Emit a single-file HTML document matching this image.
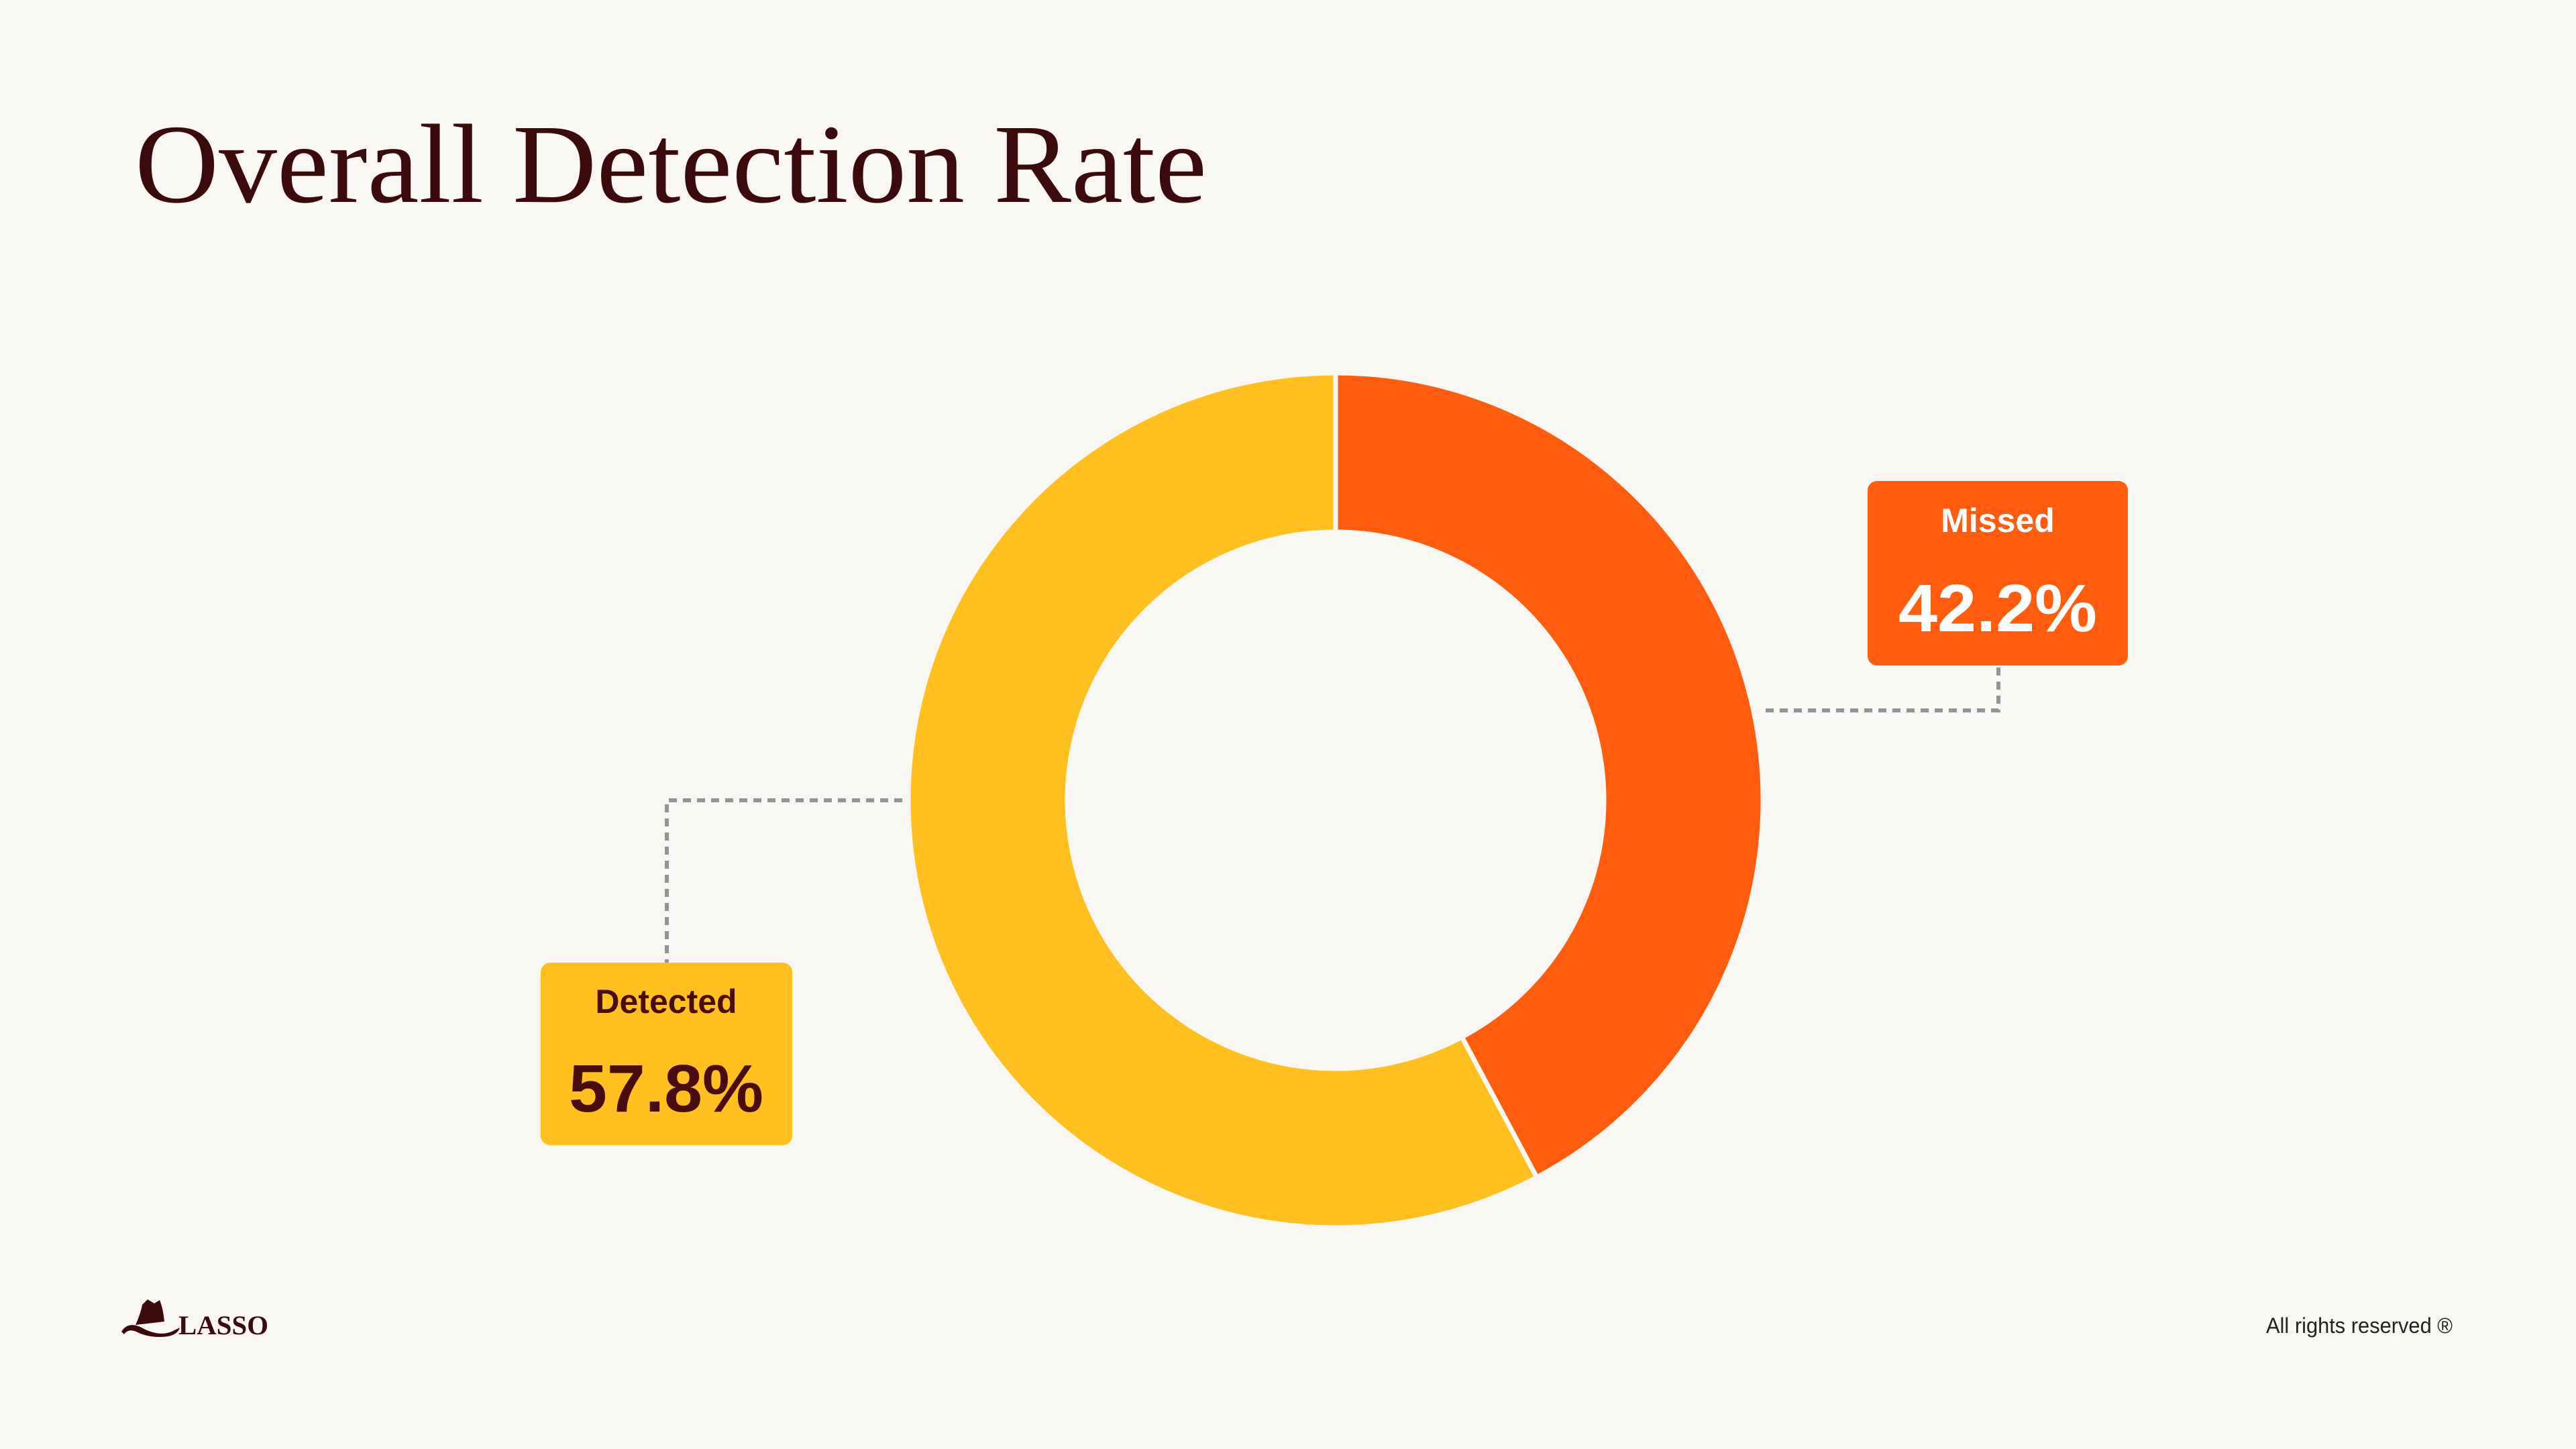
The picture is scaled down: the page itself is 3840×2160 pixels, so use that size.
<!DOCTYPE html>
<html><head><meta charset="utf-8"><style>
html,body{margin:0;padding:0;background:#F9F7F3;}
svg{display:block;}
</style></head><body>
<svg id="chart" width="3840" height="2160" viewBox="0 0 3840 2160" xmlns="http://www.w3.org/2000/svg">
<rect width="3840" height="2160" fill="#F9F7F3"/>
<text x="201" y="301" font-family="Liberation Serif, serif" font-size="168" fill="#3A0A0C" textLength="1598" lengthAdjust="spacingAndGlyphs">Overall Detection Rate</text>
<g id="donut"></g>
<g>
<path d="M2632 1059 H2979 V992" fill="none" stroke="#939398" stroke-width="6" stroke-dasharray="12 9"/>
<rect x="2784" y="717" width="388" height="275" rx="14" fill="#FF5C0E"/>
<text id="missedName" x="2978" y="793" text-anchor="middle" font-family="Liberation Sans, sans-serif" font-size="50" font-weight="bold" fill="#fff"></text>
<text id="missedVal" x="2978" y="941" text-anchor="middle" font-family="Liberation Sans, sans-serif" font-size="100" font-weight="bold" fill="#fff" textLength="296" lengthAdjust="spacingAndGlyphs"></text>
</g>
<g>
<path d="M1345 1193 H994 V1435" fill="none" stroke="#939398" stroke-width="6" stroke-dasharray="12 9"/>
<rect x="806" y="1435" width="375" height="272" rx="14" fill="#FFC020"/>
<text id="detName" x="993" y="1510" text-anchor="middle" font-family="Liberation Sans, sans-serif" font-size="50" font-weight="bold" fill="#4A0D0D"></text>
<text id="detVal" x="993" y="1657" text-anchor="middle" font-family="Liberation Sans, sans-serif" font-size="100" font-weight="bold" fill="#4A0D0D" textLength="290" lengthAdjust="spacingAndGlyphs"></text>
</g>
<g>
<path d="M202 1975 q8 -18 10 -30 l8 -8 l10 6 l8 -5 q5 12 7 32 z" fill="#3A0A0C"/>
<path d="M181 1985 q10 -16 30 -6 q25 14 45 6 q10 -5 12 -6 q-4 14 -30 14 q-20 0 -35 -8 q-12 -5 -18 4 z" fill="#3A0A0C"/>
<text x="266" y="1989" font-family="Liberation Serif, serif" font-weight="bold" font-size="40" fill="#3A0A0C" textLength="134" lengthAdjust="spacingAndGlyphs">LASSO</text>
</g>
<text x="3378" y="1987" font-family="Liberation Sans, sans-serif" font-size="32" fill="#222" textLength="278" lengthAdjust="spacingAndGlyphs">All rights reserved ®</text>
</svg>
<script>
const categories = ["Missed", "Detected"];
const values = [42.2, 57.8];
const valueLabels = ["42.2%", "57.8%"];
const colors = ["#FF5C0E", "#FFC020"];
const cx = 1991, cy = 1193, R = 637, r = 400;
const total = values.reduce((a,b)=>a+b,0);
function angle(v){ return v/total*2*Math.PI; }
function pt(a, rad){ return [cx + rad*Math.sin(a), cy - rad*Math.cos(a)]; }
const g = document.getElementById('donut');
let start = 0;
values.forEach((v,i)=>{
  const end = start + angle(v);
  const large = (end-start) > Math.PI ? 1 : 0;
  const [x1,y1]=pt(start,R),[x2,y2]=pt(end,R),[x3,y3]=pt(end,r),[x4,y4]=pt(start,r);
  const p = document.createElementNS('http://www.w3.org/2000/svg','path');
  p.setAttribute('d',`M${x1} ${y1} A${R} ${R} 0 ${large} 1 ${x2} ${y2} L${x3} ${y3} A${r} ${r} 0 ${large} 0 ${x4} ${y4} Z`);
  p.setAttribute('fill',colors[i]);
  p.setAttribute('stroke','#F9F7F3');
  p.setAttribute('stroke-width','7');
  
  
  g.appendChild(p);
  start = end;
});
document.getElementById('missedName').textContent = categories[0];
document.getElementById('missedVal').textContent = valueLabels[0];
document.getElementById('detName').textContent = categories[1];
document.getElementById('detVal').textContent = valueLabels[1];
</script>
</body></html>
